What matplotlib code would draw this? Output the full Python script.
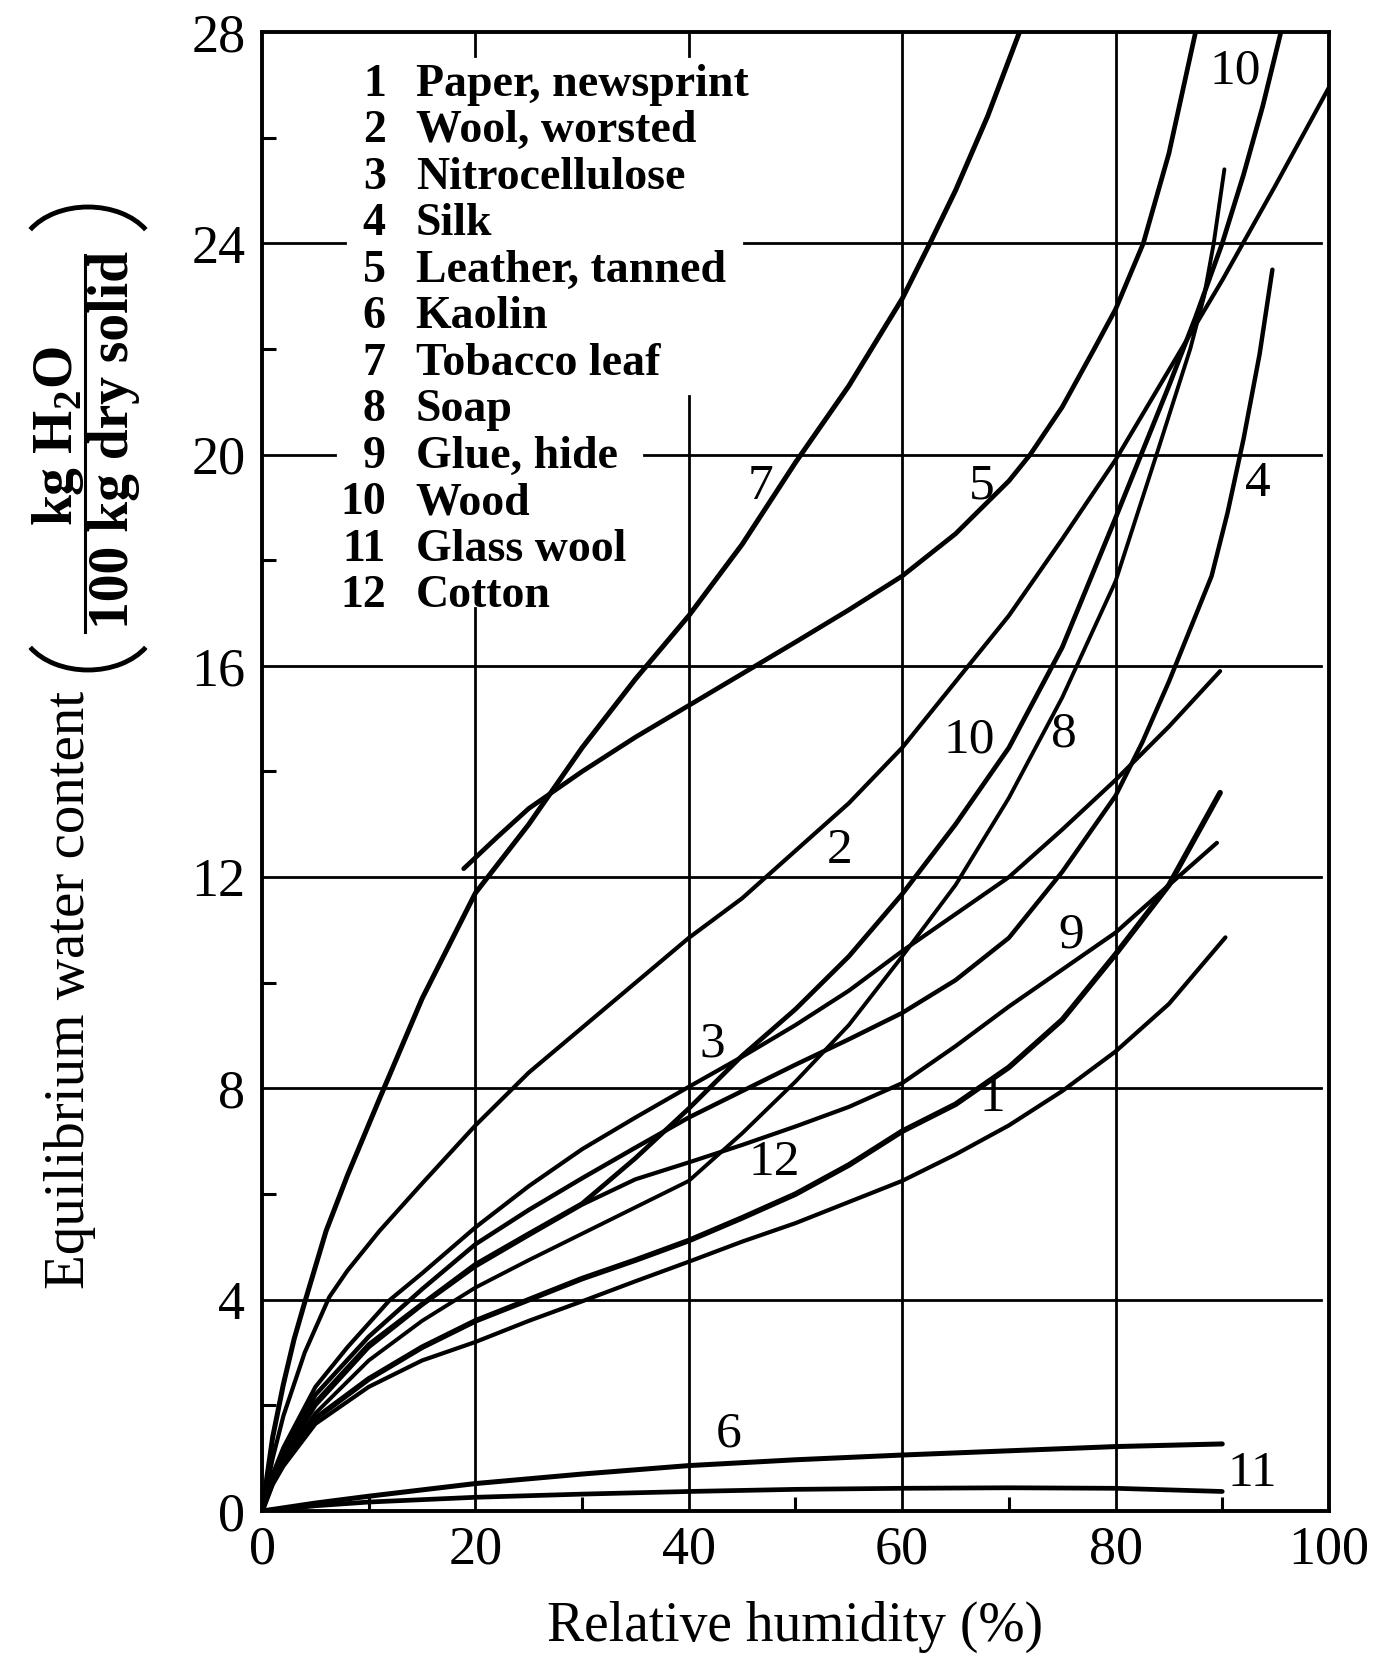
import matplotlib
matplotlib.use("Agg")
import matplotlib.pyplot as plt
from matplotlib.patches import Arc
from matplotlib.lines import Line2D

plt.rcParams['font.family'] = ['Liberation Serif', 'DejaVu Serif']
plt.rcParams['mathtext.fontset'] = 'custom'
plt.rcParams['mathtext.rm'] = 'Liberation Serif'
plt.rcParams['mathtext.bf'] = 'Liberation Serif:bold'

# ---------------- data ----------------
materials = ["Paper, newsprint", "Wool, worsted", "Nitrocellulose", "Silk",
             "Leather, tanned", "Kaolin", "Tobacco leaf", "Soap", "Glue, hide",
             "Wood", "Glass wool", "Cotton"]

rh_1 = [0, 1, 2, 5, 10, 15, 20, 25, 30, 35, 40, 45, 50, 55, 60, 65, 70, 75, 80, 85, 90.3]
w_1 = [0, 0.5, 0.85, 1.65, 2.35, 2.85, 3.2, 3.6, 3.97, 4.35, 4.72, 5.1, 5.45, 5.85, 6.25, 6.75, 7.3, 7.95, 8.7, 9.6, 10.86]

rh_2 = [0, 1, 2, 4, 6.3, 8, 11, 15, 20, 25, 30, 35, 40, 45, 50, 55, 60, 65, 70, 75, 80, 85, 90, 95, 100]
w_2 = [0, 1.0, 1.8, 3.0, 4.05, 4.55, 5.3, 6.2, 7.3, 8.3, 9.15, 10.0, 10.85, 11.6, 12.5, 13.4, 14.45, 15.7, 16.95, 18.4, 19.9, 21.6, 23.3, 25.1, 26.95]

rh_3 = [0, 1, 2, 5, 8, 12, 15, 20, 25, 30, 35, 40, 45, 50, 55, 60, 65, 70, 75, 80, 85, 89.8]
w_3 = [0, 0.7, 1.2, 2.35, 3.1, 4.0, 4.5, 5.37, 6.15, 6.85, 7.45, 8.03, 8.6, 9.2, 9.85, 10.6, 11.3, 12.0, 12.9, 13.84, 14.85, 15.9]

rh_4 = [0, 1, 2, 5, 10, 15, 20, 25, 30, 35, 40, 45, 50, 55, 60, 65, 70, 75, 80, 82.5, 85, 87, 89, 90.5, 92, 93.5, 94.7]
w_4 = [0, 0.65, 1.1, 2.2, 3.3, 4.2, 5.05, 5.7, 6.3, 6.88, 7.45, 7.95, 8.45, 8.93, 9.43, 10.05, 10.85, 12.1, 13.54, 14.55, 15.7, 16.7, 17.7, 18.9, 20.3, 21.9, 23.5]

rh_5 = [18.9, 22, 25, 30, 35, 40, 45, 50, 55, 60, 65, 70, 72, 75, 78, 80, 82.6, 85, 87.5]
w_5 = [12.16, 12.75, 13.3, 14.0, 14.65, 15.25, 15.85, 16.45, 17.06, 17.7, 18.5, 19.5, 20.0, 20.9, 22.0, 22.75, 24.0, 25.7, 28.0]

rh_6 = [0, 5, 10, 20, 30, 40, 50, 60, 70, 80, 90]
w_6 = [0, 0.15, 0.28, 0.52, 0.7, 0.86, 0.97, 1.06, 1.14, 1.22, 1.27]

rh_7 = [0, 1, 2, 3, 4, 6, 8, 11, 15, 20, 25, 30, 35, 40, 45, 50, 55, 60, 62.6, 65, 68, 71]
w_7 = [0, 1.4, 2.4, 3.25, 3.95, 5.3, 6.35, 7.8, 9.7, 11.7, 13.0, 14.45, 15.75, 16.95, 18.3, 19.85, 21.3, 22.95, 24.0, 25.0, 26.4, 28.0]

rh_8 = [0, 1, 2, 5, 10, 15, 20, 25, 30, 35, 40, 45, 50, 55, 60, 65, 70, 75, 80, 84, 87, 88.3, 89.2, 90.2]
w_8 = [0, 0.58, 0.95, 1.85, 2.85, 3.6, 4.23, 4.75, 5.25, 5.75, 6.25, 7.15, 8.13, 9.2, 10.5, 11.85, 13.5, 15.4, 17.6, 20.1, 22.0, 23.0, 24.0, 25.4]

rh_9 = [0, 1, 2, 5, 10, 15, 20, 25, 30, 35, 40, 45, 50, 55, 60, 65, 70, 75, 80, 85, 89.5]
w_9 = [0, 0.6, 1.0, 2.0, 3.1, 3.9, 4.63, 5.22, 5.8, 6.28, 6.6, 6.93, 7.28, 7.65, 8.1, 8.8, 9.55, 10.25, 10.95, 11.85, 12.65]

rh_10 = [0, 1, 2, 5, 10, 15, 20, 25, 30, 35, 40, 45, 50, 55, 60, 65, 70, 75, 80, 85, 87.5, 90, 92, 93.8, 95.5]
w_10 = [0, 0.62, 1.05, 2.05, 3.15, 3.92, 4.67, 5.25, 5.82, 6.68, 7.62, 8.62, 9.5, 10.5, 11.68, 13.0, 14.45, 16.35, 18.8, 21.3, 22.6, 24.0, 25.3, 26.6, 28.0]

rh_11 = [0, 5, 10, 20, 30, 40, 50, 60, 70, 80, 90]
w_11 = [0, 0.1, 0.17, 0.26, 0.32, 0.37, 0.41, 0.43, 0.44, 0.43, 0.37]

rh_12 = [0, 1, 2, 5, 10, 15, 20, 25, 30, 35, 40, 45, 50, 55, 60, 65, 70, 75, 80, 85, 89.8]
w_12 = [0, 0.55, 0.9, 1.75, 2.5, 3.1, 3.6, 4.0, 4.4, 4.75, 5.12, 5.55, 6.0, 6.55, 7.19, 7.7, 8.4, 9.3, 10.54, 11.85, 13.6]

curve_labels = ["7", "5", "10", "8", "2", "3", "9", "12", "1", "6", "11", "4", "10"]
x_ticks = [0, 20, 40, 60, 80, 100]
y_ticks = [0, 4, 8, 12, 16, 20, 24, 28]

# ---------------- styling / layout ----------------
series = [(rh_1, w_1, 3.0), (rh_2, w_2, 3.0), (rh_3, w_3, 3.0), (rh_4, w_4, 3.2),
          (rh_5, w_5, 3.4), (rh_6, w_6, 3.6), (rh_7, w_7, 3.6), (rh_8, w_8, 2.8),
          (rh_9, w_9, 3.0), (rh_10, w_10, 3.4), (rh_11, w_11, 3.4), (rh_12, w_12, 4.0)]
label_pos = [(46.7, 19.4), (67.5, 19.4), (66.3, 14.6), (75.2, 14.7), (54.1, 12.5),
             (42.2, 8.84), (75.8, 10.9), (48.0, 6.6), (68.5, 7.8), (43.7, 1.45),
             (92.8, 0.7), (93.3, 19.45), (91.2, 27.25)]

fig = plt.figure(figsize=(13.77, 16.57), dpi=100)
ax = fig.add_axes([0.1903, 0.0881, 0.7748, 0.8926])
ax.set_xlim(0, 100)
ax.set_ylim(0, 28)

gkw = dict(color='black', lw=2.0, zorder=1)
for yv in y_ticks[1:5]:
    ax.axhline(yv, xmin=0, xmax=0.993, **gkw)
ax.axhline(20, xmin=0, xmax=0.068, **gkw)
ax.axhline(20, xmin=0.358, xmax=0.993, **gkw)
ax.axhline(24, xmin=0, xmax=0.078, **gkw)
ax.axhline(24, xmin=0.452, xmax=0.993, **gkw)
for xv in x_ticks[3:5]:
    ax.axvline(xv, **gkw)
ax.axvline(20, ymin=0, ymax=17.1 / 28, **gkw)
ax.axvline(40, ymin=0, ymax=21.1 / 28, **gkw)
ax.axvline(20, ymin=(28 - 0.45) / 28, ymax=1, **gkw)
ax.axvline(40, ymin=(28 - 0.45) / 28, ymax=1, **gkw)

for xs, ys, lw in series:
    ax.plot(xs, ys, color='black', lw=lw, solid_capstyle='round',
            solid_joinstyle='round', zorder=3)

for txt, (lx, ly) in zip(curve_labels, label_pos):
    ax.text(lx, ly, txt, fontsize=37, ha='center', va='center', zorder=4)

# legend block
for i, name in enumerate(materials):
    yy = 27.0 - i * 0.88
    ax.text(11.6, yy, str(i + 1), fontsize=33, fontweight='bold',
            ha='right', va='center', zorder=4)
    ax.text(14.4, yy, name, fontsize=33, fontweight='bold',
            ha='left', va='center', zorder=4)

for sp in ax.spines.values():
    sp.set_linewidth(2.8)

ax.set_xticks(x_ticks)
ax.set_yticks(y_ticks)
ax.set_xticklabels([str(v) for v in x_ticks])
ax.set_yticklabels([str(v) for v in y_ticks])
ax.set_xticks([10, 30, 50, 70, 90], minor=True)
ax.set_yticks([2, 6, 10, 14, 18, 22, 26], minor=True)
ax.tick_params(axis='both', which='major', length=0, labelsize=39)
ax.tick_params(axis='y', which='major', pad=12)
ax.tick_params(axis='x', which='major', pad=10)
ax.tick_params(axis='both', which='minor', direction='in', length=10, width=2.2)

ax.set_xlabel("Relative humidity (%)", fontsize=40, labelpad=18)

# y-axis label, built from parts
fig.text(70 / 1377, 1 - 990 / 1657, "Equilibrium water content", rotation=90,
         fontsize=41, ha='center', va='center')
fig.text(58 / 1377, 1 - 436 / 1657, r"kg H$_\mathbf{2}$O", rotation=90,
         fontsize=40, fontweight='bold', ha='center', va='center')
fig.text(114 / 1377, 1 - 440 / 1657, "100 kg dry solid", rotation=90,
         fontsize=40, fontweight='bold', ha='center', va='center')
fig.add_artist(Line2D([85 / 1377, 85 / 1377], [1 - 632 / 1657, 1 - 255 / 1657],
                      transform=fig.transFigure, color='black', lw=2.2))
fig.add_artist(Arc((88 / 1377, 1 - 622 / 1657), 136 / 1377, 96 / 1657,
                   theta1=200, theta2=340, transform=fig.transFigure,
                   color='black', lw=3.5))
fig.add_artist(Arc((88 / 1377, 1 - 255 / 1657), 136 / 1377, 96 / 1657,
                   theta1=20, theta2=160, transform=fig.transFigure,
                   color='black', lw=3.5))

fig.savefig("out.png", dpi=100, facecolor='white')
